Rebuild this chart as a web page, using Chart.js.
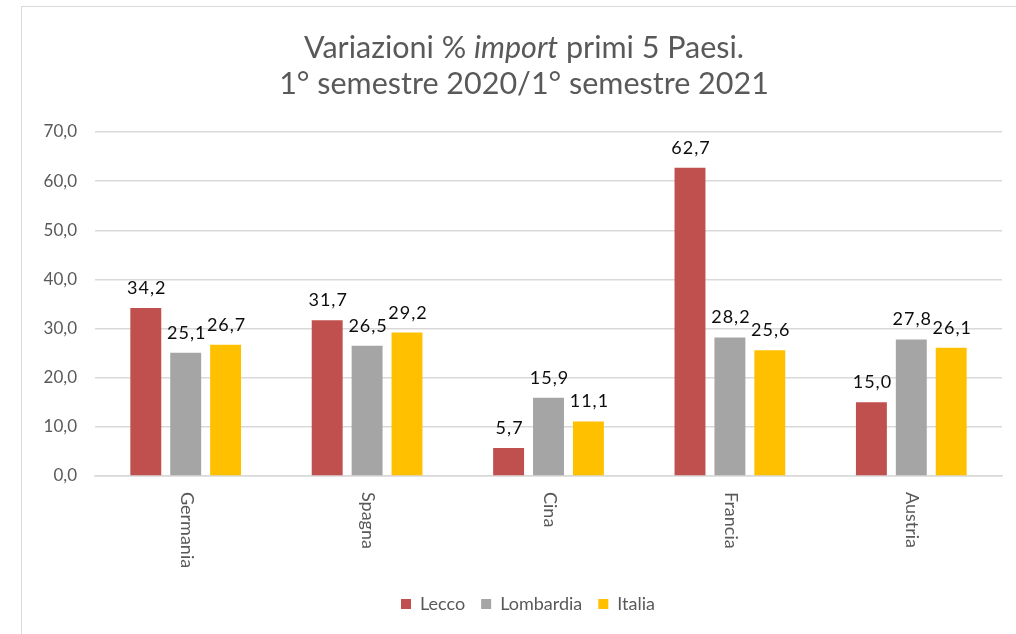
<!DOCTYPE html>
<html>
<head>
<meta charset="utf-8">
<script src="https://cdn.jsdelivr.net/npm/chart.js@4.4.1/dist/chart.umd.min.js"></script>
<style>
html, body { margin:0; padding:0; background:#fff; }
#wrap { position:relative; width:1016px; height:634px; overflow:hidden; font-family:Lato, sans-serif; }
#frame { position:absolute; left:21px; top:6px; right:-5px; bottom:-5px; border-left:1px solid #D9D9D9; border-top:1px solid #D9D9D9; }
#title { position:absolute; left:21px; width:1006px; top:28px; text-align:center; color:#595959; font-size:30.5px; line-height:36px; }
canvas { position:absolute; left:0; top:0; }
</style>
</head>
<body>
<div id="wrap">
    <div id="frame"></div>
    <canvas id="chart" width="1016" height="634"></canvas>
    <div id="title">
        <div>Variazioni % <i>import</i> primi 5 Paesi.</div>
        <div>1° semestre 2020/1° semestre 2021</div>
    </div>
</div>
<script>
const categories = ['Germania', 'Spagna', 'Cina', 'Francia', 'Austria'];
const lecco      = [34.2, 31.7, 5.7, 62.7, 15.0];
const lombardia  = [25.1, 26.5, 15.9, 28.2, 27.8];
const italia     = [26.7, 29.2, 11.1, 25.6, 26.1];
const yMin = 0, yMax = 70, yStep = 10;

const fmt = v => v.toFixed(1).replace('.', ',');

// value labels above each bar
const valueLabels = {
    id: 'valueLabels',
    afterDatasetsDraw(chart) {
        const ctx = chart.ctx;
        ctx.save();
        ctx.font = '18px Lato';
        ctx.letterSpacing = '1px';
        ctx.fillStyle = '#0d0d0d';
        ctx.textAlign = 'center';
        ctx.textBaseline = 'alphabetic';
        chart.data.datasets.forEach((ds, i) => {
            chart.getDatasetMeta(i).data.forEach((bar, j) => {
                ctx.fillText(fmt(ds.data[j]), bar.x + 1, bar.y - 14);
            });
        });
        ctx.restore();
    }
};

// category labels, turned clockwise like the original
const catLabels = {
    id: 'catLabels',
    afterDraw(chart) {
        const ctx = chart.ctx;
        const xs = chart.scales.x;
        ctx.save();
        ctx.font = '18px Lato';
        ctx.fillStyle = '#595959';
        ctx.textAlign = 'left';
        ctx.textBaseline = 'middle';
        categories.forEach((c, i) => {
            ctx.save();
            ctx.translate(xs.getPixelForTick(i) + 1, xs.top + 16);
            ctx.rotate(Math.PI / 2);
            ctx.fillText(c, 0, 0);
            ctx.restore();
        });
        ctx.restore();
    }
};

// legend in the original sits a bit right of the canvas centre
const legendShift = {
    id: 'legendShift',
    afterLayout(chart) { chart.legend.left += 54; }
};

new Chart(document.getElementById('chart'), {
    type: 'bar',
    data: {
        labels: categories,
        datasets: [
            { label: 'Lecco',     data: lecco,     backgroundColor: '#C0504D' },
            { label: 'Lombardia', data: lombardia, backgroundColor: '#A5A5A5' },
            { label: 'Italia',    data: italia,    backgroundColor: '#FFC000' },
        ]
    },
    options: {
        responsive: false,
        animation: false,
        devicePixelRatio: 1,
        datasets: { bar: { categoryPercentage: 0.66, barPercentage: 0.775 } },
        layout: { padding: { left: 0, right: 14, top: 132, bottom: 11 } },
        plugins: {
            title: { display: false },
            tooltip: { enabled: false },
            legend: {
                position: 'bottom',
                labels: { boxWidth: 10, boxHeight: 10, padding: 16, color: '#595959', font: { family: 'Lato', size: 18 } }
            }
        },
        scales: {
            x: {
                ticks: { display: false },
                grid: { display: false },
                border: { display: true, color: '#D9D9D9', width: 1.5 },
                afterFit(scale) { scale.height = 103; }
            },
            y: {
                min: yMin, max: yMax,
                ticks: { stepSize: yStep, padding: 18, color: '#595959', font: { family: 'Lato', size: 17 }, callback: v => fmt(v) },
                grid: { color: '#D9D9D9', lineWidth: 1.5, drawTicks: false },
                border: { display: false },
                afterFit(scale) { scale.width = 95; }
            }
        }
    },
    plugins: [valueLabels, catLabels, legendShift]
});
</script>
</body>
</html>
